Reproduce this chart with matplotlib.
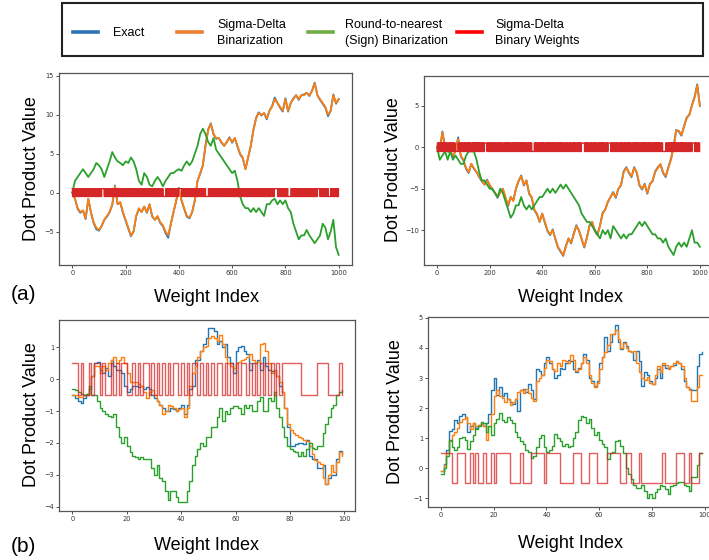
import numpy as np
import matplotlib.pyplot as plt
from matplotlib.lines import Line2D
from matplotlib.patches import Rectangle

# ---- long runs, 1000 weights (values sampled every 10 indices) ----
tl_exact = [0, -0.8, -2.1, -2.6, -2.3, -3.4, -0.8, -2.6, -3.9, -4.7,
            -4.9, -4.3, -3.5, -3.1, -2.5, -1.6, 0.9, -1.5, -1.3, -2.6,
            -3.6, -4.6, -5.6, -5.0, -3.0, -2.1, -2.5, -1.8, -2.6, -1.5,
            -3.1, -3.5, -3.1, -3.9, -4.3, -5.2, -5.8, -4.0, -2.5, -1.1,
            0.6, -1.0, -2.1, -3.1, -3.3, -2.5, -1.0, 1.5, 2.4, 3.5,
            6.0, 8.1, 8.9, 7.5, 6.9, 7.0, 6.4, 6.0, 6.5, 7.1,
            6.4, 7.0, 5.9, 4.9, 4.4, 3.0, 4.5, 6.0, 8.1, 9.6,
            10.3, 9.9, 10.2, 9.4, 10.5, 11.1, 12.2, 11.5, 10.9, 10.4,
            12.1, 10.4, 11.5, 12.1, 12.5, 11.9, 12.5, 12.6, 12.8, 12.4,
            13.1, 14.1, 12.5, 11.9, 11.4, 10.9, 9.8, 10.5, 12.6, 11.4,
            12.0]
tl_sd = [0, -0.8, -2.0, -2.5, -2.3, -3.3, -0.8, -2.5, -3.8, -4.5,
         -4.8, -4.3, -3.5, -3.0, -2.5, -1.5, 0.8, -1.5, -1.2, -2.5,
         -3.5, -4.5, -5.5, -5.0, -3.0, -2.0, -2.5, -1.8, -2.5, -1.5,
         -3.0, -3.5, -3.0, -3.8, -4.2, -5.0, -5.5, -4.0, -2.5, -1.0,
         0.5, -1.0, -2.0, -3.0, -3.2, -2.5, -1.0, 1.5, 2.5, 3.5,
         6.0, 8.0, 8.8, 7.5, 7.0, 7.0, 6.5, 6.0, 6.5, 7.0,
         6.5, 7.0, 6.0, 5.0, 4.5, 3.0, 4.5, 6.0, 8.0, 9.5,
         10.2, 10.0, 10.2, 9.5, 10.5, 11.0, 12.0, 11.5, 11.0, 10.5,
         12.0, 10.5, 11.5, 12.0, 12.5, 12.0, 12.5, 12.5, 12.8, 12.5,
         13.0, 14.0, 12.5, 12.0, 11.5, 11.0, 10.0, 10.5, 12.5, 11.5,
         12.0]
tl_sign = [0, 1.5, 2.0, 2.5, 3.0, 2.5, 2.0, 2.5, 3.0, 3.8,
           3.5, 3.0, 2.0, 3.0, 4.0, 5.2, 4.5, 4.0, 3.8, 3.5,
           4.0, 3.8, 4.5, 4.0, 3.0, 1.5, 1.0, 2.5, 2.0, 1.0,
           0.8, 1.5, 2.0, 1.5, 0.8, 1.5, 2.0, 2.5, 2.5, 2.8,
           3.0, 2.8, 3.5, 4.0, 3.5, 4.0, 5.0, 6.0, 7.5, 8.2,
           7.5, 6.5, 6.0, 7.0, 5.5, 5.0, 4.5, 4.0, 3.5, 3.0,
           2.5, 2.8, 1.5, -0.5, -1.5, -2.0, -2.0, -2.5, -2.0, -2.5,
           -2.0, -2.5, -3.0, -1.5, -1.5, -1.0, -0.8, -1.5, -1.0, -1.5,
           -1.0, -2.0, -2.5, -4.0, -5.0, -6.0, -5.5, -5.5, -4.8, -5.5,
           -6.0, -6.5, -6.0, -5.5, -4.0, -4.5, -6.0, -5.0, -3.5, -7.0,
           -8.0]
tl_weights = (
    "+-+--+-++- -+-++-+--+ +--+-+-++- -++-+--+-+ +-++-+-+-- -+--+-+-++ +-+--+-++- +--+-+-++- -+-++-+--+ -++-+--+-+"
    "+-++-+-+-- ++++++++++ -+--+-+-++ +-+--+-++- -++-+--+-+ -+-++-+--+ +--+-+-++- +-++-+-+-- +-+--+-++- -+--+-+-++"
    "-+-++-+--+ -++-+--+-+ +-+--+-++- +--+-+-++- -+--+-+-++ +-++-+-+-- -+-++-+--+ +-+--+-++- -++-+--+-+ +--+-+-++-"
    "+-+--+-++- +--+-+-++- +-++-+-+-- -+-++-+--+ ---------- -++-+--+-+ -+--+-+-++ +-+--+-++- +--+-+-++- -+-++-+--+"
    "++++++++++ +-+--+-++- -++-+--+-+ -+--+-+-++ +--+-+-++- -+-++-+--+ +-++-+-+-- +-+--+-++- -++-+--+-+ -+--+-+-++"
    "---------- -+-++-+--+ +--+-+-++- +-+--+-++- +-++-+-+-- -++-+--+-+ -+--+-+-++ -+-++-+--+ +--+-+-++- +-+--+-++-"
    "-++-+--+-+ +-+--+-++- -+--+-+-++ +--+-+-++- -+-++-+--+ +-++-+-+-- +-+--+-++- -++-+--+-+ +--+-+-++- -+--+-+-++"
    "-+-++-+--+ +-++-+-+-- +-+--+-++- -++-+--+-+ +--+-+-++- -+--+-+-++ ++++++++++ +-+--+-++- -+-++-+--+ +--+-+-++-"
    "+-+--+-++- ---------- -++-+--+-+ -+-++-+--+ +-++-+-+-- +--+-+-++- -+--+-+-++ +-+--+-++- -++-+--+-+ -+-++-+--+"
    "+--+-+-++- +-+--+-++- ++++++++++ -+--+-+-++ -+-++-+--+ -++-+--+-+ ---------- +-++-+-+-- +-+--+-++- +--+-+-++-"
).replace(" ", "")

tr_exact = [0, -0.4, 1.9, 0.1, -0.5, -0.6, -1.1, -0.4, 1.2, -1.1,
            -1.6, -2.6, -3.1, -2.0, -2.6, -3.0, -3.6, -4.1, -4.5, -3.9,
            -4.6, -5.1, -5.5, -6.1, -5.4, -5.0, -6.1, -7.1, -6.0, -6.4,
            -5.0, -4.1, -3.4, -4.6, -4.0, -5.6, -6.1, -7.6, -8.1, -9.0,
            -8.0, -9.1, -10.1, -10.6, -9.9, -11.1, -12.1, -12.6, -13.1, -11.9,
            -11.0, -11.6, -10.4, -9.4, -10.1, -11.1, -12.1, -10.9, -9.4, -9.0,
            -10.1, -10.6, -9.4, -7.9, -7.5, -6.6, -6.0, -5.4, -6.1, -5.0,
            -4.6, -2.9, -2.4, -3.1, -3.6, -2.4, -3.1, -4.6, -5.1, -4.4,
            -5.6, -4.4, -4.1, -2.9, -2.4, -2.1, -3.1, -3.6, -2.4, -1.4,
            0.1, 2.1, 1.9, 1.4, 2.6, 3.6, 3.9, 5.1, 6.1, 7.6,
            5.0]
tr_sd = [0, -0.5, 1.8, 0.0, -0.5, -0.5, -1.0, -0.5, 1.0, -1.0,
         -1.5, -2.5, -3.0, -2.0, -2.5, -3.0, -3.5, -4.0, -4.5, -4.0,
         -4.5, -5.0, -5.5, -6.0, -5.5, -5.0, -6.0, -7.0, -6.0, -6.5,
         -5.0, -4.0, -3.5, -4.5, -4.0, -5.5, -6.0, -7.5, -8.0, -9.0,
         -8.0, -9.0, -10.0, -10.5, -10.0, -11.0, -12.0, -12.5, -13.0, -12.0,
         -11.0, -11.5, -10.5, -9.5, -10.0, -11.0, -12.0, -11.0, -9.5, -9.0,
         -10.0, -10.5, -9.5, -8.0, -7.5, -6.5, -6.0, -5.5, -6.0, -5.0,
         -4.5, -3.0, -2.5, -3.0, -3.5, -2.5, -3.0, -4.5, -5.0, -4.5,
         -5.5, -4.5, -4.0, -3.0, -2.5, -2.0, -3.0, -3.5, -2.5, -1.5,
         0.0, 2.0, 2.0, 1.5, 2.5, 3.5, 4.0, 5.0, 6.0, 7.5,
         5.0]
tr_sign = [0, -1.5, -1.0, -0.5, -1.5, -0.5, -1.5, -1.0, -1.5, -2.0,
           -2.0, -1.0, -0.5, -0.5, -0.5, -1.5, -3.0, -4.0, -4.0, -4.5,
           -5.0, -5.0, -5.5, -6.0, -5.0, -5.5, -6.5, -7.5, -8.5, -8.0,
           -7.0, -7.0, -6.0, -7.0, -7.5, -7.0, -7.5, -7.0, -6.5, -6.0,
           -6.0, -5.5, -5.0, -5.5, -5.0, -5.5, -5.0, -4.5, -5.0, -4.5,
           -5.0, -5.5, -6.0, -6.5, -7.0, -8.0, -8.5, -9.0, -9.0, -9.5,
           -10.0, -10.5, -11.0, -10.0, -10.5, -10.0, -11.0, -9.5, -10.0, -10.5,
           -11.0, -10.5, -11.0, -10.5, -10.5, -10.0, -9.5, -9.0, -9.5, -9.0,
           -9.5, -10.0, -10.5, -10.5, -11.0, -11.0, -11.5, -11.0, -12.0, -12.5,
           -13.0, -12.0, -11.5, -12.0, -11.5, -12.0, -11.0, -10.0, -11.5, -11.5,
           -12.0]
tr_weights = (
    "-+-++-+--+ -++-+--+-+ +-+--+-++- +--+-+-++- -+--+-+-++ +-++-+-+-- +-+--+-++- ---------- +--+-+-++- -+-++-+--+"
    "+-+--+-++- +--+-+-++- +-++-+-+-- -+--+-+-++ -++-+--+-+ -+-++-+--+ -+-++-+--+ +-+--+-++- ++++++++++ -++-+--+-+"
    "+--+-+-++- -+--+-+-++ +-+--+-++- -+-++-+--+ +-++-+-+-- -++-+--+-+ +-+--+-++- +--+-+-++- -+--+-+-++ -+-++-+--+"
    "-++-+--+-+ +-+--+-++- +--+-+-++- +-++-+-+-- -+-++-+--+ -+--+-+-++ ---------- +-+--+-++- -+-++-+--+ -++-+--+-+"
    "+-++-+-+-- -+-++-+--+ -++-+--+-+ +-+--+-++- +--+-+-++- -+--+-+-++ +-+--+-++- +-++-+-+-- -+-++-+--+ +--+-+-++-"
    "-+--+-+-++ +--+-+-++- +-+--+-++- -++-+--+-+ -+-++-+--+ ++++++++++ +-++-+-+-- +-+--+-++- -++-+--+-+ +--+-+-++-"
    "+-+--+-++- -++-+--+-+ -+--+-+-++ -+-++-+--+ +--+-+-++- ++++++++++ +-++-+-+-- -+-++-+--+ +-+--+-++- -++-+--+-+"
    "-+-++-+--+ +-++-+-+-- +--+-+-++- +-+--+-++- -+--+-+-++ -++-+--+-+ -+-++-+--+ +-+--+-++- +--+-+-++- +-++-+-+--"
    "+--+-+-++- +-+--+-++- -++-+--+-+ -+--+-+-++ -+-++-+--+ +-++-+-+-- ---------- +-+--+-++- -++-+--+-+ -+-++-+--+"
    "-++-+--+-+ -+-++-+--+ +-+--+-++- +-++-+-+-- +--+-+-++- -+--+-+-++ +-+--+-++- ++++++++++ -+-++-+--+ +--+-+-++-"
).replace(" ", "")

# ---- short runs, 100 weights ----
bl_exact = [-0.5, -0.6, -0.7, -0.75, -0.6, -0.5, -0.3, 0.1, 0.5, 0.55,
            0.3, 0.2, 0.35, 0.1, 0.6, 0.4, 0.3, 0.3, 0.2, -0.2,
            -0.4, -0.3, -0.2, -0.2, -0.25, -0.2, -0.3, -0.25, -0.3, -0.5,
            -0.6, -0.7, -0.8, -0.9, -1.0, -1.0, -0.9, -0.95, -1.0, -0.9,
            -0.8, -1.1, -0.8, -0.3, -0.2, 0.6, 0.6, 0.9, 1.1, 1.3,
            1.6, 1.6, 1.5, 1.1, 1.2, 1.0, 1.1, 0.7, 0.5, 0.2,
            0.9, 1.0, 1.05, 0.9, 0.8, 0.3, 0.5, 0.5, 0.6, 0.3,
            0.7, 0.4, 0.3, 0.25, 0.3, 0.1, -0.2, -0.4, -0.9, -1.5,
            -2.1, -2.1, -2.05, -2.0, -2.0, -2.05, -1.9, -2.4, -2.5, -2.5,
            -2.8, -2.8, -2.7, -3.3, -3.1, -3.0, -3.0, -2.5, -2.25, -2.35]
bl_sd = [-0.5, -0.5, -0.55, -0.55, -0.5, -0.45, -0.2, 0.1, 0.4, 0.4,
         0.2, 0.4, 0.3, 0.5, 0.6, 0.7, 0.5, 0.6, 0.7, 0.5,
         0.2, -0.1, -0.1, -0.1, -0.15, -0.2, -0.4, -0.6, -0.4, -0.35,
         -0.5, -0.7, -0.8, -1.1, -1.0, -0.8, -0.85, -0.9, -1.0, -0.95,
         -0.9, -1.2, -0.9, -0.2, 0.2, 0.4, 0.7, 0.9, 1.0, 1.05,
         1.3, 1.35, 1.3, 1.2, 1.4, 1.1, 0.7, 0.5, 0.4, 0.35,
         0.5, 0.55, 0.6, 0.65, 0.7, 0.8, 0.6, 0.5, 0.55, 1.1,
         1.15, 0.9, 0.5, 0.2, 0.3, 0.1, -0.1, -0.4, -0.9, -1.4,
         -1.6, -1.7, -1.75, -1.8, -1.85, -1.9, -1.95, -2.1, -2.35, -2.55,
         -2.6, -2.65, -3.1, -3.3, -3.0, -2.7, -2.9, -2.6, -2.3, -2.4]
bl_sign = [-0.3, -0.35, -0.4, -0.45, -0.5, -0.45, -0.2, -0.5, -0.5, -0.7,
           -0.9, -1.0, -1.1, -1.15, -1.2, -1.1, -1.5, -1.8, -2.0, -1.8,
           -2.1, -2.3, -2.4, -2.45, -2.5, -2.45, -2.5, -2.5, -2.5, -2.8,
           -3.0, -2.7, -3.1, -3.2, -3.5, -3.8, -3.5, -3.5, -3.7, -3.85,
           -3.85, -3.85, -3.5, -3.2, -2.7, -2.4, -2.2, -2.0, -2.1, -1.8,
           -1.8, -1.5, -1.5, -1.2, -0.9, -1.3, -1.0, -1.1, -0.9, -0.85,
           -0.85, -0.9, -1.1, -0.8, -0.9, -0.8, -1.0, -1.0, -0.7, -0.55,
           -1.0, -1.0, -0.6, -0.7, -0.4, -0.9, -1.2, -1.5, -1.8, -2.1,
           -2.2, -2.25, -2.3, -2.4, -2.3, -2.4, -2.2, -2.0, -2.15, -2.2,
           -2.1, -2.1, -1.7, -1.4, -1.2, -0.9, -0.8, -0.5, -0.4, -0.35]
bl_weights = [1, 1, -1, 1, -1, -1, 1, -1, 1, 1,
              -1, 1, -1, -1, 1, -1, 1, -1, 1, 1,
              -1, -1, 1, -1, 1, -1, 1, 1, -1, 1,
              -1, 1, -1, 1, -1, 1, -1, 1, 1, -1,
              1, -1, 1, -1, 1, 1, -1, 1, -1, 1,
              -1, 1, -1, 1, 1, -1, 1, -1, 1, -1,
              1, -1, 1, 1, -1, 1, -1, 1, -1, 1,
              -1, 1, -1, 1, -1, 1, -1, 1, 1, 1,
              1, 1, 1, 1, -1, -1, -1, -1, -1, -1,
              1, 1, 1, 1, -1, -1, -1, -1, 1, -1]

br_exact = [-0.1, 0.15, 0.6, 1.25, 1.3, 1.6, 1.5, 1.75, 1.8, 1.7,
            1.2, 1.4, 1.5, 1.35, 1.45, 1.5, 1.4, 1.5, 1.8, 2.6,
            3.0, 2.45, 2.7, 2.4, 2.5, 2.3, 2.2, 2.15, 2.3, 1.9,
            2.6, 2.65, 2.55, 2.8, 2.6, 2.3, 3.3, 3.25, 3.1, 3.5,
            3.7, 3.5, 3.3, 3.0, 3.1, 3.35, 3.3, 3.5, 3.6, 3.55,
            3.3, 3.2, 3.35, 3.5, 3.8, 3.6, 3.0, 2.9, 2.75, 2.9,
            3.5, 3.7, 4.35, 3.9, 4.2, 4.45, 4.75, 4.2, 3.95, 4.2,
            4.05, 3.9, 3.85, 3.6, 3.9, 3.55, 2.75, 3.2, 3.1, 2.9,
            2.8, 3.0, 3.3, 3.0, 3.45, 3.35, 3.35, 3.4, 3.45, 3.55,
            3.5, 3.3, 2.9, 2.7, 2.65, 2.6, 2.6, 3.4, 3.8, 3.85]
br_sd = [-0.1, 0.1, 0.5, 0.9, 1.1, 1.2, 1.35, 1.55, 1.65, 1.7,
         1.5, 1.3, 1.5, 1.4, 1.45, 1.5, 1.4, 0.95, 1.4, 1.8,
         2.4, 2.6, 2.4, 2.35, 2.2, 2.3, 2.1, 2.2, 2.3, 2.55,
         2.6, 2.5, 2.65, 2.5, 2.35, 2.25, 2.9, 3.0, 3.1, 3.35,
         3.6, 3.55, 3.3, 3.25, 3.5, 3.4, 3.6, 3.55, 3.5, 3.75,
         3.6, 3.25, 3.3, 3.5, 3.7, 3.5, 3.1, 2.85, 2.7, 2.85,
         3.3, 3.7, 3.85, 4.1, 4.45, 4.45, 4.6, 4.3, 4.0, 4.15,
         4.0, 3.9, 3.85, 3.9, 3.5, 3.2, 3.0, 2.95, 3.05, 2.85,
         2.8, 3.1, 3.4, 3.2, 3.5, 3.45, 3.3, 3.4, 3.5, 3.55,
         3.5, 3.4, 3.0, 2.7, 2.6, 2.25, 2.25, 2.7, 3.1, 3.1]
br_sign = [-0.2, 0.0, 0.4, 0.95, 0.7, 0.6, 0.7, 1.0, 1.05, 0.95,
           0.65, 0.9, 1.1, 1.3, 1.4, 1.55, 1.5, 1.2, 1.4, 1.1,
           1.5, 1.65, 1.85, 1.6, 1.55, 1.7, 1.6, 1.5, 1.2, 1.05,
           0.9, 0.8, 0.6, 0.55, 0.35, 0.4, 0.7, 1.0, 1.1, 0.7,
           0.55, 0.6, 0.75, 1.15, 1.0, 0.9, 0.75, 0.8, 0.7, 0.75,
           1.0, 1.2, 1.6, 1.75, 1.7, 1.5, 1.65, 1.35, 1.1, 1.2,
           0.95, 0.8, 0.7, 0.3, 0.5, 0.55, 0.9, 0.95, 0.75, 0.5,
           0.0, -0.2, -0.35, -0.55, -0.65, -0.65, -0.55, -0.75, -1.0, -0.85,
           -1.0, -0.8, -0.7, -0.55, -0.6, -0.7, -0.85, -0.6, -0.55, -0.5,
           -0.45, -0.45, -0.55, -0.6, -0.75, -0.3, -0.3, 0.1, 0.5, 0.5]
br_weights = [1, 1, 1, 1, -1, -1, 1, 1, 1, -1,
              -1, 1, -1, 1, -1, -1, 1, -1, -1, 1,
              -1, 1, 1, 1, 1, 1, -1, -1, -1, -1,
              1, -1, -1, -1, 1, 1, 1, 1, 1, -1,
              1, 1, 1, 1, 1, -1, -1, -1, -1, -1,
              1, 1, 1, -1, -1, -1, 1, 1, 1, -1,
              -1, -1, -1, 1, 1, 1, 1, 1, -1, -1,
              1, 1, -1, -1, -1, 1, -1, -1, -1, -1,
              -1, -1, -1, -1, 1, -1, -1, -1, -1, 1,
              1, 1, -1, -1, 1, -1, -1, -1, 1, 1]

legend_labels = ["Exact", "Sigma-Delta\nBinarization",
                 "Round-to-nearest\n(Sign) Binarization", "Sigma-Delta\nBinary Weights"]
legend_colors = ["#2e75b6", "#ed7d31", "#70ad47", "#ff0000"]

W, H = 709, 560
fig = plt.figure(figsize=(W / 100, H / 100), dpi=100)
LABEL_FONT = "Liberation Sans"


def px_box(left, top, right, bottom):
    return [left / W, 1 - bottom / H, (right - left) / W, (bottom - top) / H]


def style(ax, xlim, ylim, xticks, yticks):
    ax.set_xlim(xlim)
    ax.set_ylim(ylim)
    ax.set_xticks(xticks)
    ax.set_yticks(yticks)
    ax.tick_params(labelsize=4.8, length=2, width=0.6, colors="#333333", pad=1.5)
    for s in ax.spines.values():
        s.set_color("#555555")
        s.set_linewidth(0.9)


def long_panel(ax, exact, sd, sign, weights, ylim, yticks):
    x = np.arange(len(exact)) * 10
    ax.plot(x, exact, color="tab:blue", lw=1.3)
    ax.plot(x, sd, color="tab:orange", lw=1.3)
    ax.plot(x, sign, color="tab:green", lw=1.3)
    w = np.array([0.5 if c == "+" else -0.5 for c in weights])
    ax.step(np.arange(len(w)), w, where="post", color="tab:red", lw=1.0)
    style(ax, (-50, 1050), ylim, range(0, 1001, 200), yticks)


def short_panel(ax, exact, sd, sign, weights, ylim, yticks):
    x = np.arange(len(exact))
    ax.step(x, exact, where="post", color="tab:blue", lw=1.0)
    ax.step(x, sd, where="post", color="tab:orange", lw=1.0)
    ax.step(x, sign, where="post", color="tab:green", lw=1.0)
    ax.step(x, np.array(weights) * 0.5, where="post", color="tab:red", lw=1.0, alpha=0.75)
    style(ax, (-4.95, 103.95), ylim, range(0, 101, 20), yticks)


ax1 = fig.add_axes(px_box(59, 73, 352, 265))
long_panel(ax1, tl_exact, tl_sd, tl_sign, tl_weights, (-9.3, 15.35), [-5, 0, 5, 10, 15])
ax2 = fig.add_axes(px_box(424, 76, 713, 265))
long_panel(ax2, tr_exact, tr_sd, tr_sign, tr_weights, (-14.2, 8.6), [-10, -5, 0, 5])
ax3 = fig.add_axes(px_box(59, 320, 355, 511))
short_panel(ax3, bl_exact, bl_sd, bl_sign, bl_weights, (-4.14, 1.86), range(-4, 2))
ax4 = fig.add_axes(px_box(428, 317, 715, 507))
short_panel(ax4, br_exact, br_sd, br_sign, br_weights, (-1.29, 5.03), range(-1, 6))


def ftext(x, y, s, **kw):
    fig.text(x / W, 1 - y / H, s, family=LABEL_FONT, **kw)


for cx, cy in [(207, 297), (570, 297), (207, 545), (570, 543)]:
    ftext(cx, cy, "Weight Index", fontsize=13, ha="center", va="center")
for cx, cy in [(32, 169), (393, 170), (32, 415), (395, 412)]:
    ftext(cx, cy, "Dot Product Value", fontsize=13, ha="center", va="center", rotation=90)
ftext(11, 294, "(a)", fontsize=15, ha="left", va="center")
ftext(11, 546, "(b)", fontsize=15, ha="left", va="center")

# legend box across the top
fig.add_artist(Rectangle((62 / W, 1 - 56 / H), (703 - 62) / W, 53 / H,
                         transform=fig.transFigure, fill=False, ec="#222222", lw=1.5))
handle_x = [73, 177, 308, 457]
text_x = [113, 217, 345, 495]
for hx, tx, lab, col in zip(handle_x, text_x, legend_labels, legend_colors):
    fig.add_artist(Line2D([hx / W, (hx + 25) / W], [1 - 32 / H] * 2,
                          transform=fig.transFigure, color=col, lw=2.6))
    ftext(tx, 33, lab, fontsize=9, ha="left", va="center", linespacing=1.45)

fig.savefig("out.png", dpi=100)
